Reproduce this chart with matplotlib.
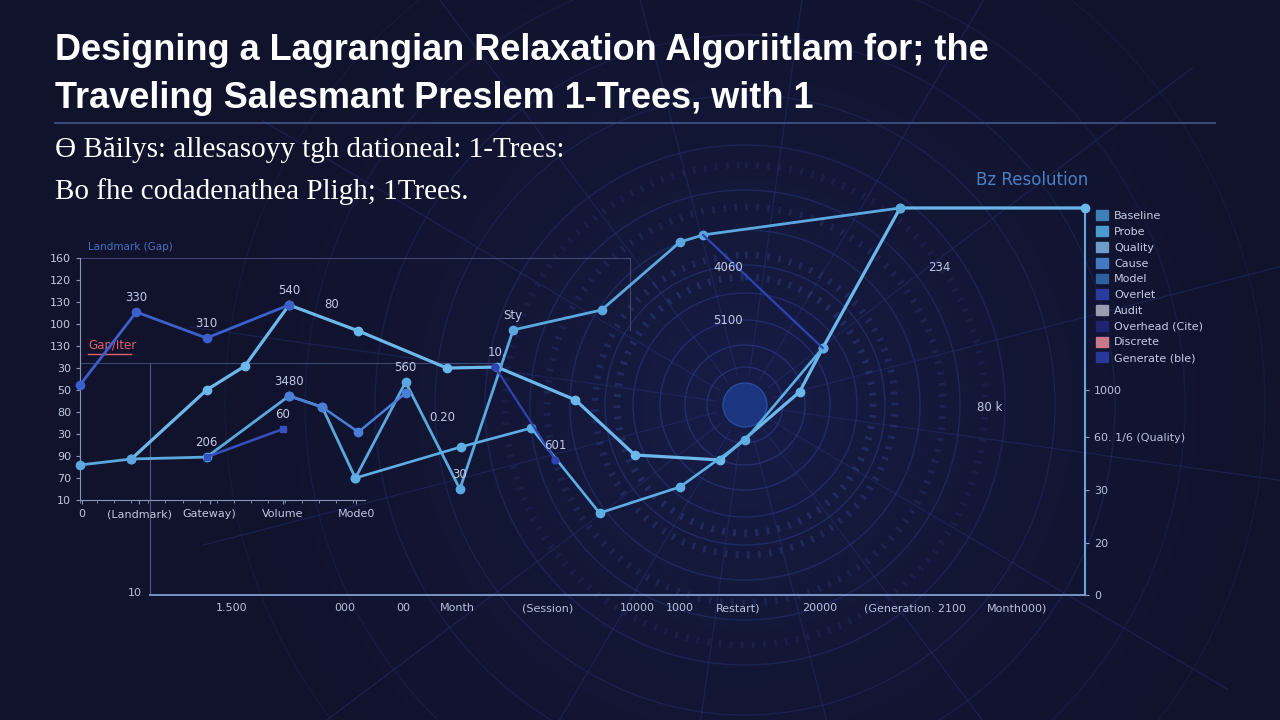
import numpy as np
import matplotlib.pyplot as plt
from matplotlib.patches import Circle, Patch
from matplotlib.colors import LinearSegmentedColormap

# series (x = iteration, y = bound value)
x_a = [5.1, 12.6, 16.4, 20.8, 27.7, 36.5, 41.5, 49.3, 55.2, 63.7, 71.6, 73.9, 81.6, 100]
y_a = [35.4, 78.2, 93.0, 130.9, 114.8, 91.8, 92.4, 72.0, 37.9, 34.8, 77.0, 104.2, 191.0, 191.0]
x_b = [0, 5.1, 12.6, 20.8, 24.1, 27.4, 32.4, 37.8, 43.1, 51.9, 59.7, 62.0, 81.6]
y_b = [31.7, 35.4, 36.6, 74.5, 67.6, 23.6, 83.1, 16.8, 115.4, 127.8, 169.9, 174.3, 191.0]
x_c = [0, 5.6, 12.6, 20.8]
y_c = [81.3, 126.5, 110.4, 130.9]
x_d = [12.6, 20.2]
y_d = [36.6, 54.0]
x_e = [20.8, 24.1, 27.7, 32.4]
y_e = [74.5, 67.6, 52.1, 76.3]
x_f = [27.4, 37.9, 44.9, 51.7, 59.7, 66.2, 73.9]
y_f = [23.6, 42.9, 54.6, 1.9, 18.1, 47.2, 104.2]
x_g = [41.3, 47.3]
y_g = [92.4, 34.8]
x_h = [62.0, 73.9]
y_h = [174.3, 104.2]

point_labels = [(5.6, 126.5, '330'), (20.8, 130.9, '540'), (12.6, 110.4, '310'),
                (25.0, 122.0, '80'), (20.8, 74.5, '3480'), (20.2, 54.0, '60'),
                (12.6, 36.6, '206'), (32.4, 83.1, '560'), (41.5, 92.4, '10.'),
                (37.8, 16.8, '30'), (43.1, 115.4, 'Sty'), (47.3, 34.8, '601'),
                (64.5, 145.0, '4060'), (64.5, 112.0, '5100'), (85.5, 145.0, '234'),
                (36.0, 52.0, '0.20'), (90.5, 58.0, '80 k')]

inner_yticks = ['160', '120', '130', '100', '130', '30', '50', '80', '30', '90', '70', '10']
inner_xticks = ['0', '(Landmark)', 'Gateway)', 'Volume', 'Mode0']
outer_xticks = ['1.500', '000', '00', 'Month', '(Session)', '10000', '1000',
                'Restart)', '20000', '(Generation. 2100', 'Month000)']
right_yticks = ['0', '20', '30', '60. 1/6 (Quality)', '1000']

legend_names = ['Baseline', 'Probe', 'Quality', 'Cause', 'Model', 'Overlet', 'Audit',
                'Overhead (Cite)', 'Discrete', 'Generate (ble)']
legend_colors = ['#3f7fb8', '#4a9ad0', '#6f9cc8', '#4478c0', '#2e5f9e', '#2a3a9e',
                 '#9c9cb0', '#1e2470', '#c87a8a', '#283896']

bg_col = '#11132d'
fig = plt.figure(figsize=(12.8, 7.2), dpi=100, facecolor=bg_col)

# background: soft glow + concentric rings
bg = fig.add_axes([0, 0, 1, 1], zorder=0)
bg.set_xlim(0, 1280)
bg.set_ylim(720, 0)
bg.axis('off')
yy, xx = np.mgrid[0:720, 0:1280]
d = np.hypot(xx - 745, yy - 405)
glow = np.clip(1 - d / 620, 0, 1) ** 2
cmap = LinearSegmentedColormap.from_list('g', [bg_col, '#171d48'])
bg.imshow(glow, extent=(0, 1280, 720, 0), cmap=cmap, vmin=0, vmax=1, zorder=0, aspect='auto')
cx, cy = 745, 405
for r, a in [(38, .6), (60, .6), (85, .55), (112, .5), (140, .5), (175, .45), (215, .4),
             (260, .35), (310, .3), (370, .25), (440, .2), (520, .15)]:
    bg.add_patch(Circle((cx, cy), r, fill=False, ec='#2c3d8a', lw=1, alpha=a, zorder=1))
for r, a in [(128, 0.35), (150, 0.3), (198, 0.22), (240, 0.16)]:
    bg.add_patch(Circle((cx, cy), r, fill=False, ec='#3a4fa0', lw=5, alpha=a,
                        ls=(0, (0.4, 1.2)), zorder=1))
for ang in np.arange(0, 360, 22.5):
    t = np.deg2rad(ang + 8)
    bg.plot([cx + 30 * np.cos(t), cx + 560 * np.cos(t)],
            [cy + 30 * np.sin(t), cy + 560 * np.sin(t)], color='#2a3a84', lw=0.9, alpha=0.35, zorder=1)
bg.add_patch(Circle((cx, cy), 22, fc='#1e3a8c', ec='#2d50a8', alpha=0.85, zorder=2))

# title block
tf = ['Liberation Sans', 'DejaVu Sans']
sf = ['Liberation Serif', 'DejaVu Serif']
fig.text(55 / 1280, 1 - 50 / 720, 'Designing a Lagrangian Relaxation Algoriitlam for; the',
         color='white', fontsize=26, fontweight='bold', family=tf, va='center')
fig.text(55 / 1280, 1 - 98 / 720, 'Traveling Salesmant Preslem 1-Trees, with 1',
         color='white', fontsize=26, fontweight='bold', family=tf, va='center')
bg.plot([55, 1215], [123, 123], color='#3b4a7a', lw=1.5, zorder=3)
fig.text(55 / 1280, 1 - 150 / 720, 'Ɵ Băilys: allesasoyy tgh dationeal: 1-Trees:',
         color='white', fontsize=21, family=sf, va='center')
fig.text(55 / 1280, 1 - 192 / 720, 'Bo fhe codadenathea Pligh; 1Trees.',
         color='white', fontsize=21, family=sf, va='center')

# faint guide lines of the small panel
bg.plot([80, 630], [258, 258], color='#4a5580', lw=0.8, alpha=0.8, zorder=3)
bg.plot([630, 630], [258, 330], color='#4a5580', lw=0.8, alpha=0.8, zorder=3)
bg.plot([80, 500], [363, 363], color='#4a5580', lw=0.8, alpha=0.8, zorder=3)

# outer frame with right axis
axo = fig.add_axes([150 / 1280, 1 - 595 / 720, 935 / 1280, 387 / 720], zorder=2)
axo.patch.set_alpha(0)
axo.set_xlim(0, 935)
axo.set_ylim(0, 387)
axo.spines['top'].set_visible(False)
axo.spines['left'].set_color('#4a5580')
axo.spines['left'].set_bounds(0, 232)
axo.spines['bottom'].set_color('#7f9fd0')
axo.spines['bottom'].set_linewidth(1.3)
axo.spines['right'].set_color('#6aa2da')
axo.spines['right'].set_linewidth(1.5)
axo.yaxis.tick_right()
axo.set_yticks([0, 52, 105, 158, 205])
axo.set_yticklabels(right_yticks)
axo.set_xticks([82, 195, 253, 307, 398, 487, 530, 588, 670, 765, 867])
axo.set_xticklabels(outer_xticks)
axo.tick_params(colors='#8fa0c8', labelsize=8, length=3, labelcolor='#b8c2dc')
axo.tick_params(axis='x', length=0, pad=6)
axo.text(-8, 2, '10', color='#b8c2dc', fontsize=8, ha='right', va='center')

# small labelled panel
axi = fig.add_axes([80 / 1280, 1 - 500 / 720, 285 / 1280, 242 / 720], zorder=3)
axi.patch.set_alpha(0)
axi.set_xlim(0, 28.36)
axi.set_ylim(10, 160)
axi.spines['top'].set_visible(False)
axi.spines['right'].set_visible(False)
for s in ['left', 'bottom']:
    axi.spines[s].set_color('#8a96b8')
    axi.spines[s].set_linewidth(0.8)
axi.set_yticks(np.linspace(10, 160, 12))
axi.set_yticklabels(inner_yticks[::-1])
axi.set_xticks([0.2, 5.9, 12.9, 20.2, 27.5])
axi.set_xticklabels(inner_xticks)
axi.set_xticks(np.arange(0, 28.5, 1.7), minor=True)
axi.tick_params(colors='#8a96b8', labelsize=8, labelcolor='#c0c8e0', length=3)
axi.tick_params(which='minor', length=2, colors='#8a96b8')
axi.text(0.8, 164, 'Landmark (Gap)', color='#4a6fc0', fontsize=7.5, va='bottom')
axi.text(0.8, 102, 'Gap/Iter', color='#e06070', fontsize=8.5, va='bottom')
axi.plot([0.8, 5.1], [100.5, 100.5], color='#e06070', lw=1)

# data lines
ax = fig.add_axes([80 / 1280, 1 - 595 / 720, 1005 / 1280, 387 / 720], zorder=4)
ax.patch.set_alpha(0)
ax.set_xlim(0, 100)
ax.set_ylim(-48.9, 191.0)
ax.axis('off')
ax.plot(x_a, y_a, color='#6cb8ea', lw=2.3, marker='o', ms=6, clip_on=False)
ax.plot(x_b, y_b, color='#5ba8de', lw=2.0, marker='o', ms=6, clip_on=False)
ax.plot(x_c, y_c, color='#3c5fcc', lw=2.0, marker='o', ms=6, clip_on=False)
ax.plot(x_d, y_d, color='#3650c0', lw=1.8, marker='s', ms=5, clip_on=False)
ax.plot(x_e, y_e, color='#4a7ed8', lw=1.8, marker='o', ms=6, clip_on=False)
ax.plot(x_f, y_f, color='#5eaee4', lw=1.9, marker='o', ms=6, clip_on=False)
ax.plot(x_g, y_g, color='#2f44b0', lw=1.6, marker='o', ms=5, clip_on=False)
ax.plot(x_h, y_h, color='#2c45b4', lw=1.6, clip_on=False)
for px, py, lab in point_labels:
    ax.annotate(lab, (px, py), xytext=(0, 8), textcoords='offset points',
                color='#c0cae6', fontsize=8.5, ha='center')

# legend
handles = [Patch(color=c, label=n) for c, n in zip(legend_colors, legend_names)]
fig.legend(handles=handles, loc='upper left', bbox_to_anchor=(1092 / 1280, 1 - 206 / 720),
           frameon=False, fontsize=8, labelcolor='#c4cce2', handlelength=1.0,
           handleheight=1.0, labelspacing=0.45, handletextpad=0.6, borderaxespad=0)
fig.text(1088 / 1280, 1 - 180 / 720, 'Bz Resolution', color='#4a80c4', fontsize=12,
         ha='right', va='center')

fig.savefig('out.png', dpi=100, facecolor=bg_col)
